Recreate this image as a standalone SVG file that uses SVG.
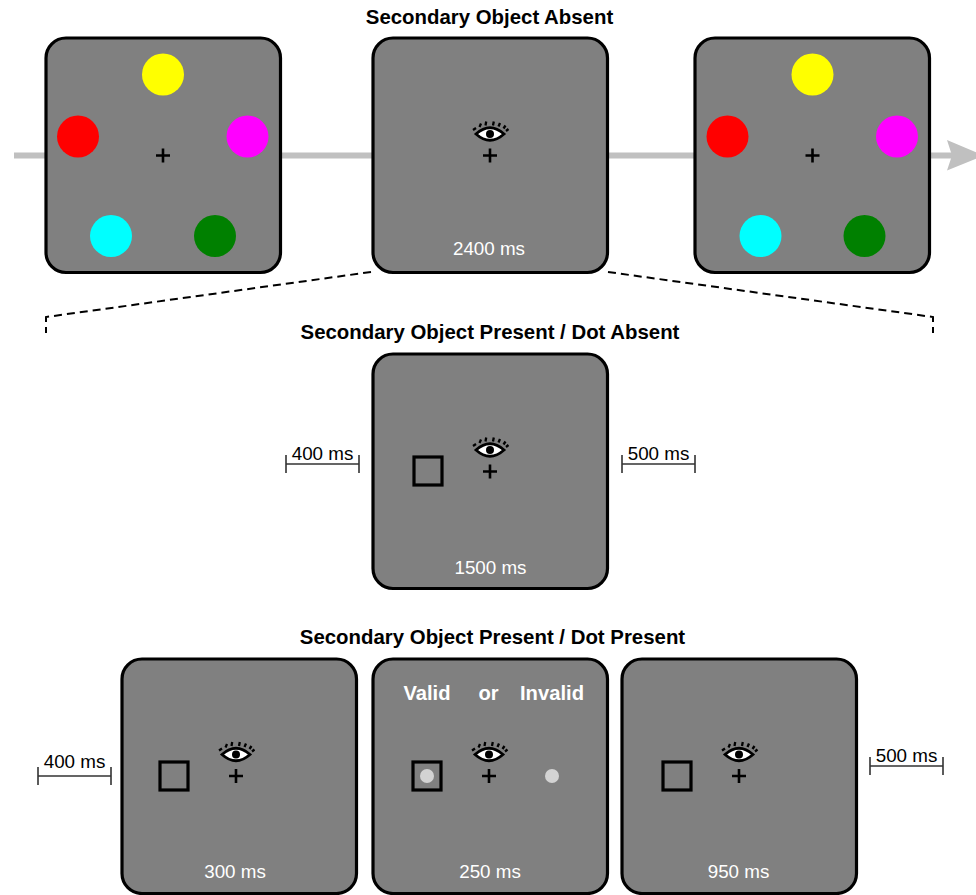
<svg xmlns="http://www.w3.org/2000/svg" xmlns:xlink="http://www.w3.org/1999/xlink" width="976" height="895" viewBox="0 0 976 895">
<style>
text{font-family:"Liberation Sans",Arial,sans-serif;text-anchor:middle}
.title{font-size:20.4px;font-weight:bold;fill:#000}
.time{font-size:18.800px;fill:#fff}
.lab{font-size:18.800px;fill:#000}
.cue{font-size:20.2px;font-weight:bold;fill:#fff}
.panel{fill:#808080;stroke:#000;stroke-width:3.200}
.sq{fill:none;stroke:#000;stroke-width:3.200}
.dash{fill:none;stroke:#000;stroke-width:2;stroke-dasharray:8 5}
.bar{fill:none;stroke:#333;stroke-width:1.6}
.dot{fill:#d3d3d3}
</style>
<defs>
<rect id="panelShape" class="panel" x="0" y="0" width="234.500" height="234.500" rx="20"/>
<path id="cross" d="M-7 0H7M0-7V7" stroke="#000" stroke-width="2.6" fill="none"/>
<g id="eye">
<path d="M-14-21.500Q0-34 14-21.500Q0-9-14-21.500Z" fill="#fff" stroke="#000" stroke-width="2.800"/>
<circle cx="0" cy="-21.500" r="4" fill="#000"/>
<path d="M-17-25.500L-14-27.500M-10.500-28.500L-9-32M-4.500-30L-3.800-34M3-30L3.800-34M8.500-29L10-32.500M13.500-27L15.500-30M16-24.500L18.500-26.500" fill="none" stroke="#000" stroke-width="2.300"/>
</g>
<g id="ring">
<circle cx="-85" cy="-19" r="21" fill="#f00"/>
<circle cx="0" cy="-81" r="21" fill="#ff0"/>
<circle cx="84.500" cy="-19" r="21" fill="#f0f"/>
<circle cx="52" cy="80.500" r="21" fill="#008000"/>
<circle cx="-52" cy="80.500" r="21" fill="#0ff"/>
</g>
</defs>

<g id="connectors">
<path d="M14 155.500H953" stroke="#c0c0c0" stroke-width="6" fill="none"/>
<path d="M947 140L984 155.500L947 170.500L952 155.500Z" fill="#c0c0c0"/>
<path class="dash" d="M371 272L46 317V333"/>
<path class="dash" d="M608 272L933 317V333"/>
</g>

<text class="title" x="489.500" y="24">Secondary Object Absent</text>

<g id="panel-1">
<use href="#panelShape" x="46" y="38"/>
<use href="#ring" x="163" y="155.500"/>
<use href="#cross" x="163" y="155.500"/>
</g>
<g id="panel-2">
<use href="#panelShape" x="373" y="38"/>
<use href="#eye" x="490" y="155.500"/>
<use href="#cross" x="490" y="155.500"/>
<text class="time" x="489" y="254.500">2400 ms</text>
</g>
<g id="panel-3">
<use href="#panelShape" x="695" y="38"/>
<use href="#ring" x="812.500" y="155.500"/>
<use href="#cross" x="812.500" y="155.500"/>
</g>

<text class="title" x="490" y="339">Secondary Object Present / Dot Absent</text>

<g id="interval-400a">
<path class="bar" d="M286 455V473M359 455V473M286 464H359"/>
<text class="lab" x="322.500" y="460">400 ms</text>
</g>
<g id="panel-4">
<use href="#panelShape" x="373" y="354"/>
<rect class="sq" x="414" y="457" width="28" height="28"/>
<use href="#eye" x="490" y="471.500"/>
<use href="#cross" x="490" y="471.500"/>
<text class="time" x="490.500" y="573.500">1500 ms</text>
</g>
<g id="interval-500a">
<path class="bar" d="M622 455V473M695 455V473M622 464H695"/>
<text class="lab" x="658.500" y="460">500 ms</text>
</g>

<text class="title" x="492.500" y="644">Secondary Object Present / Dot Present</text>

<g id="interval-400b">
<path class="bar" d="M38 767V785M111 767V785M38 776H111"/>
<text class="lab" x="74.500" y="768">400 ms</text>
</g>
<g id="panel-5">
<use href="#panelShape" x="122" y="659"/>
<rect class="sq" x="160" y="762" width="28" height="28"/>
<use href="#eye" x="236" y="776"/>
<use href="#cross" x="236" y="776"/>
<text class="time" x="235" y="878">300 ms</text>
</g>
<g id="panel-6">
<use href="#panelShape" x="373" y="659"/>
<text class="cue" x="427" y="700">Valid</text>
<text class="cue" x="488.500" y="700">or</text>
<text class="cue" x="552" y="700">Invalid</text>
<rect class="sq" x="413" y="762" width="28" height="28"/>
<circle class="dot" cx="427" cy="776" r="7"/>
<use href="#eye" x="489" y="776"/>
<use href="#cross" x="489" y="776"/>
<circle class="dot" cx="552" cy="776" r="7"/>
<text class="time" x="490" y="878">250 ms</text>
</g>
<g id="panel-7">
<use href="#panelShape" x="622" y="659"/>
<rect class="sq" x="663" y="762" width="28" height="28"/>
<use href="#eye" x="739" y="776"/>
<use href="#cross" x="739" y="776"/>
<text class="time" x="738.500" y="878">950 ms</text>
</g>
<g id="interval-500b">
<path class="bar" d="M870 757V775M943 757V775M870 766H943"/>
<text class="lab" x="906.500" y="762">500 ms</text>
</g>
</svg>
